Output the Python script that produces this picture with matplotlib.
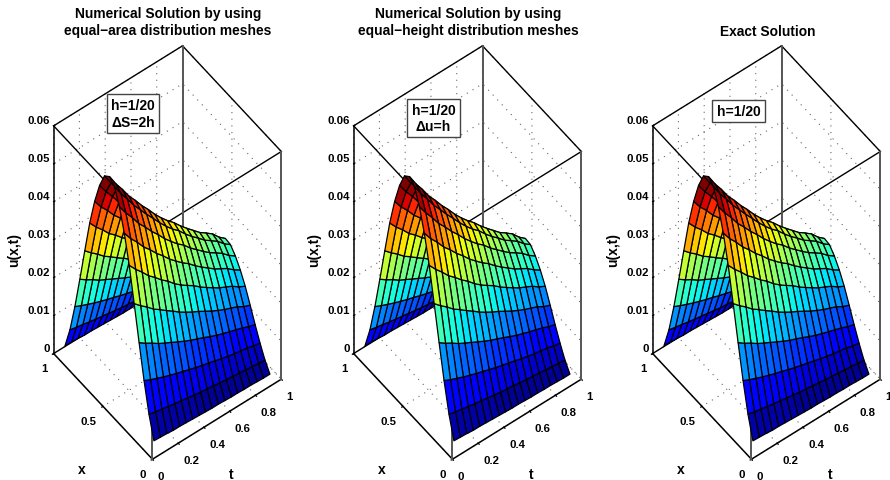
import numpy as np
import matplotlib
matplotlib.use('Agg')
import matplotlib.pyplot as plt
from mpl_toolkits.mplot3d import Axes3D  # noqa

plt.rcParams['font.family'] = ['Liberation Sans', 'DejaVu Sans']
plt.rcParams['font.weight'] = 'bold'

x_nodes = [0.05, 0.10, 0.15, 0.20, 0.25, 0.30, 0.35, 0.40, 0.45, 0.50,
           0.55, 0.60, 0.65, 0.70, 0.75, 0.80, 0.85, 0.90, 0.95]
t_nodes = [0.05, 0.10, 0.15, 0.20, 0.25, 0.30, 0.35, 0.40, 0.45, 0.50,
           0.55, 0.60, 0.65, 0.70, 0.75, 0.80, 0.85, 0.90, 0.95]

# u(x,t), in units of 1e-4 (rows: x, columns: t)
u_read = [
    [24, 23, 22, 20, 20, 19, 18, 17, 16, 15, 15, 14, 13, 13, 12, 12, 11, 10, 10],
    [80, 76, 73, 69, 66, 63, 60, 57, 54, 52, 50, 47, 45, 43, 41, 39, 37, 35, 33],
    [155, 147, 140, 133, 127, 121, 116, 110, 105, 100, 96, 91, 86, 82, 78, 75, 72, 67, 64],
    [241, 229, 219, 207, 198, 189, 180, 171, 163, 156, 149, 141, 134, 128, 122, 117, 111, 104, 99],
    [330, 314, 300, 284, 272, 259, 247, 234, 223, 213, 204, 194, 184, 175, 167, 160, 153, 143, 136],
    [417, 396, 378, 358, 343, 326, 312, 295, 281, 269, 258, 244, 232, 221, 210, 202, 193, 181, 172],
    [488, 463, 443, 420, 402, 382, 365, 346, 330, 315, 302, 286, 272, 259, 246, 236, 226, 212, 201],
    [544, 517, 494, 468, 448, 426, 407, 386, 368, 351, 337, 319, 304, 289, 275, 264, 252, 236, 224],
    [583, 554, 529, 502, 480, 457, 436, 414, 394, 376, 361, 342, 325, 310, 294, 282, 270, 253, 240],
    [595, 565, 540, 512, 490, 466, 445, 422, 402, 384, 368, 349, 332, 316, 300, 288, 275, 256, 242],
    [583, 554, 529, 502, 467, 443, 422, 399, 379, 361, 345, 326, 309, 293, 277, 265, 252, 233, 219],
    [544, 517, 494, 468, 444, 420, 399, 376, 356, 338, 322, 303, 286, 270, 254, 242, 229, 210, 196],
    [488, 463, 443, 420, 402, 382, 365, 346, 330, 315, 299, 280, 263, 247, 231, 219, 206, 187, 173],
    [417, 396, 378, 358, 343, 326, 312, 295, 281, 269, 258, 244, 232, 221, 208, 196, 183, 164, 150],
    [330, 314, 300, 284, 272, 259, 247, 234, 223, 213, 204, 194, 184, 175, 167, 160, 153, 141, 127],
    [241, 229, 219, 207, 198, 189, 180, 171, 163, 156, 149, 141, 134, 128, 122, 117, 111, 104, 99],
    [155, 147, 140, 133, 127, 121, 116, 110, 105, 100, 96, 91, 86, 82, 78, 75, 72, 67, 64],
    [80, 76, 73, 69, 66, 63, 60, 57, 54, 52, 50, 47, 45, 43, 41, 39, 37, 35, 33],
    [24, 23, 22, 20, 20, 19, 18, 17, 16, 15, 15, 14, 13, 13, 12, 12, 11, 10, 10],
]
color_top = 0.057

x_ticks = [0, 0.5, 1]
t_ticks = [0, 0.2, 0.4, 0.6, 0.8, 1]
u_ticks = [0, 0.01, 0.02, 0.03, 0.04, 0.05, 0.06]
x_ticklabels = ['0', '0.5', '1']
t_ticklabels = ['0', '0.2', '0.4', '0.6', '0.8', '1']
u_ticklabels = ['0', '0.01', '0.02', '0.03', '0.04', '0.05', '0.06']

titles = ['Numerical Solution by using\nequal\u2212area distribution meshes',
          'Numerical Solution by using\nequal\u2212height distribution meshes',
          'Exact Solution']
notes = ['h=1/20\n\u0394S=2h', 'h=1/20\n\u0394u=h', 'h=1/20']

W, H = 890, 481
fig = plt.figure(figsize=(W / 100, H / 100), dpi=100, facecolor='white')


def draw_panel(left, note, note_xy, title, title_xy):
    # 442 px square: with zoom 1 this gives the scale of the reference box
    ax = fig.add_axes([left / W, 0.5 / H, 442 / W, 442 / H], projection='3d')
    ax.patch.set_alpha(0)
    ax.set_proj_type('ortho')
    ax.view_init(elev=54.6, azim=232.7)
    ax.set_box_aspect((162, 163, 393))
    ax.computed_zorder = False
    ax.set_xlim(0, 1, view_margin=0)
    ax.set_ylim(0, 1, view_margin=0)
    ax.set_zlim(0, 0.06, view_margin=0)

    T, X = np.meshgrid(t_nodes, x_nodes)
    U = np.array(u_read) * 1e-4
    cmap = plt.get_cmap('jet', 64)
    ax.plot_surface(T, X, U, rstride=1, cstride=1, facecolors=cmap(np.clip(U / color_top, 0, 1)),
                    edgecolor='k', linewidth=0.9, shade=False, antialiased=True, zorder=5)

    # box edges, all behind the surface
    for a, b in [((0, 0, .06), (0, 1, .06)), ((0, 1, .06), (1, 1, .06)),
                 ((1, 1, .06), (1, 0, .06)), ((1, 0, .06), (0, 0, .06)),
                 ((0, 1, 0), (1, 1, 0))]:
        ax.plot(*zip(a, b), color='k', lw=1.0, zorder=1)
    for a, b in [((1, 1, 0), (1, 1, .06)), ((1, 0, 0), (1, 0, .06)),
                 ((0, 0, 0), (0, 0, .06))]:
        ax.plot(*zip(a, b), color='#555555', lw=1.4, zorder=1)

    ax.set_xticks(t_ticks, t_ticklabels, fontsize=8.2, fontweight='bold')
    ax.set_yticks(x_ticks, x_ticklabels, fontsize=8.2, fontweight='bold')
    ax.set_zticks(u_ticks, u_ticklabels, fontsize=8.2, fontweight='bold')
    for label in ax.get_xticklabels():
        label.set_ha('left')
        label.set_va('center')
    for label in ax.get_yticklabels():
        label.set_ha('right')
        label.set_va('center')
    for label in ax.get_zticklabels():
        label.set_ha('right')
        label.set_va('bottom')
    ax.tick_params(axis='x', pad=0.5)
    ax.tick_params(axis='y', pad=0)
    ax.tick_params(axis='z', pad=-5)
    for axis in (ax.xaxis, ax.yaxis, ax.zaxis):
        axis.set_pane_color((1, 1, 1, 0))
        axis.pane.set_edgecolor('none')
        axis.line.set_color('k')
        axis.line.set_linewidth(1.1)
        axis._axinfo['grid'].update(color='#666666', linestyle=(0, (1, 5)), linewidth=0.8)
        axis._axinfo['tick'].update(linewidth={True: 0.9, False: 0.9})
    ax.xaxis._axinfo['tick'].update(inward_factor=0.12, outward_factor=0)
    ax.yaxis._axinfo['tick'].update(inward_factor=0.12, outward_factor=0)
    ax.zaxis._axinfo['tick'].update(inward_factor=0, outward_factor=0.12)

    ox = left + 59.5
    fig.text((ox + 82) / W, 1 - 470 / H, 'x', fontsize=10, ha='center', va='center')
    fig.text((ox + 231) / W, 1 - 475 / H, 't', fontsize=10, ha='center', va='center')
    fig.text((ox + 14) / W, 1 - 250 / H, 'u(x,t)', fontsize=10, rotation=90, ha='center', va='center')
    fig.text(title_xy / W, 1 - 22.5 / H if '\n' in title else 1 - 32 / H, title, fontsize=9.9,
             ha='center', va='center', linespacing=1.25)
    fig.text(note_xy[0] / W, 1 - note_xy[1] / H, note, fontsize=10, ha='center', va='center',
             linespacing=1.2,
             bbox=dict(boxstyle='square,pad=0.3', fc='white', ec='#444444', lw=1.0))


draw_panel(-59.5, notes[0], (133, 114.5), titles[0], 168)
draw_panel(240.5, notes[1], (433.5, 119), titles[1], 468)
draw_panel(539.5, notes[2], (738.5, 112), titles[2], 768)

fig.savefig('out.png', dpi=100)
